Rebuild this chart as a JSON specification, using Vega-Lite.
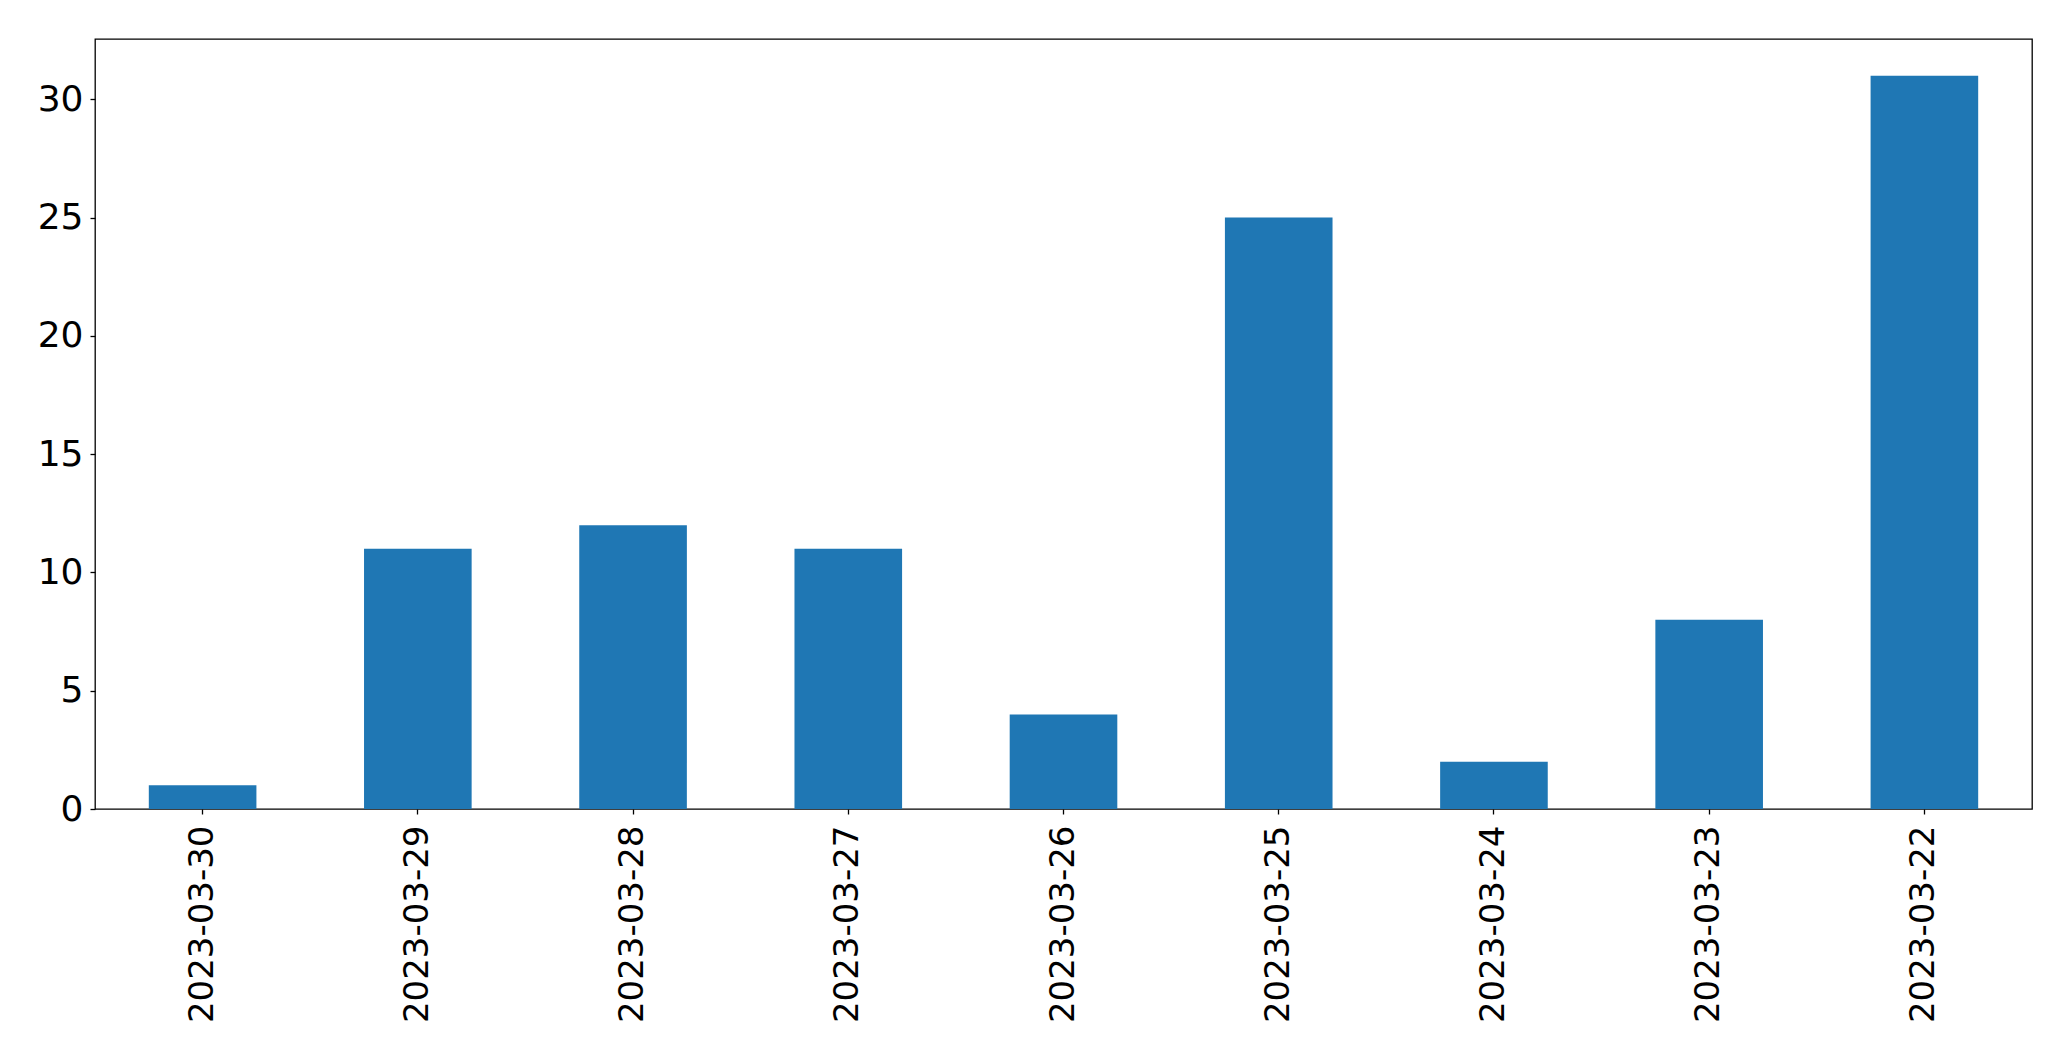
{
  "$schema": "https://vega.github.io/schema/vega-lite/v6.json",
  "width": 1937,
  "height": 770,
  "autosize": {"type": "none"},
  "padding": {"left": 95, "top": 39, "right": 39, "bottom": 252},
  "background": "white",
  "config": {
    "view": {"stroke": "black", "strokeWidth": 1.3},
    "font": "DejaVu Sans"
  },
  "data": {
    "values": [
      {"date": "2023-03-30", "count": 1},
      {"date": "2023-03-29", "count": 11},
      {"date": "2023-03-28", "count": 12},
      {"date": "2023-03-27", "count": 11},
      {"date": "2023-03-26", "count": 4},
      {"date": "2023-03-25", "count": 25},
      {"date": "2023-03-24", "count": 2},
      {"date": "2023-03-23", "count": 8},
      {"date": "2023-03-22", "count": 31}
    ]
  },
  "mark": {"type": "bar", "color": "#1f77b4"},
  "encoding": {
    "x": {
      "field": "date",
      "type": "nominal",
      "sort": null,
      "scale": {"paddingInner": 0.5, "paddingOuter": 0.25},
      "axis": {
        "title": null,
        "domain": false,
        "labelAngle": -90,
        "labelAlign": "right",
        "labelBaseline": "middle",
        "labelFontSize": 34,
        "labelLimit": 0,
        "labelColor": "black",
        "labelPadding": 11,
        "tickColor": "black",
        "tickSize": 5,
        "tickWidth": 1.3
      }
    },
    "y": {
      "field": "count",
      "type": "quantitative",
      "scale": {"domain": [0, 32.55], "nice": false},
      "axis": {
        "title": null,
        "domain": false,
        "grid": false,
        "values": [0, 5, 10, 15, 20, 25, 30],
        "labelFontSize": 36,
        "labelColor": "black",
        "labelPadding": 7,
        "tickColor": "black",
        "tickSize": 5,
        "tickWidth": 1.3
      }
    }
  }
}
